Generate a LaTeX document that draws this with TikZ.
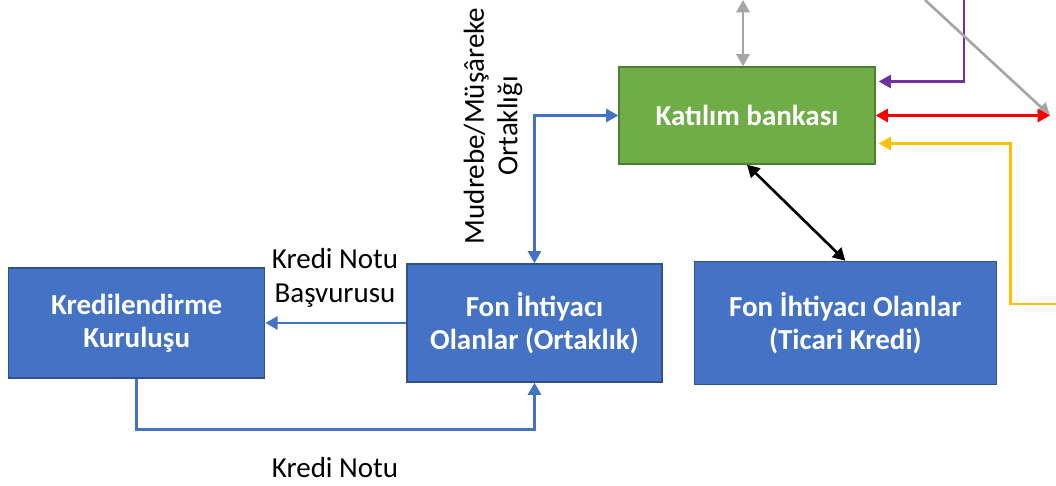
\documentclass[tikz,border=0pt]{standalone}
\usepackage{fontspec}
\setmainfont{Carlito}
\usepackage{xcolor}
\usetikzlibrary{positioning,arrows.meta,calc}

\definecolor{boxblue}{HTML}{4472C4}
\definecolor{boxblueline}{HTML}{2F528F}
\definecolor{boxgreen}{HTML}{70AD47}
\definecolor{boxgreenline}{HTML}{507E32}
\definecolor{lnblue}{HTML}{4472C4}
\definecolor{lngray}{HTML}{A5A5A5}
\definecolor{lnpurple}{HTML}{7030A0}
\definecolor{lnred}{HTML}{FF0000}
\definecolor{lnyellow}{HTML}{FFC000}

\begin{document}
\begin{tikzpicture}[
  x=0.02cm, y=-0.02cm,
  font=\fontsize{16.5}{19}\selectfont,
  every node/.style={align=center},
  actor/.style={draw=boxblueline, line width=0.8pt, fill=boxblue, text=white, font=\fontsize{16.5}{19}\selectfont\bfseries, minimum width=5.12cm, minimum height=2.3cm},
  bank/.style={actor, draw=boxgreenline, fill=boxgreen, minimum height=1.94cm},
  lbl/.style={inner sep=1pt},
  flow/.style={line width=1.5pt, -{Triangle[length=7pt,width=7.5pt]}},
  both/.style={flow, {Triangle[length=7pt,width=7.5pt]}-{Triangle[length=7pt,width=7.5pt]}}
]
\useasboundingbox (0,0) rectangle (1056,486);

\node[bank] (katilim) at (747,115.5) {Katılım bankası};
\node[actor, minimum width=5.1cm, minimum height=2.36cm] (fonO) at (534.5,323) {Fon İhtiyacı\\Olanlar (Ortaklık)};
\node[actor, minimum height=2.2cm, left=2.82cm of fonO] (kredi) {Kredilendirme\\Kuruluşu};
\node[actor, minimum width=6.04cm, minimum height=2.46cm, right=0.62cm of fonO] (ticari) {Fon İhtiyacı Olanlar\\(Ticari Kredi)};

\node[lbl] (basvuru) at (335,278) {Kredi Notu\\Başvurusu};
\node[lbl] (notu) at (335,468) {Kredi Notu};
\node[lbl, rotate=90] (ortak) at (493,126) {Mudrebe/Müşâreke\\Ortaklığı};

\coordinate (gtop) at (743,0);
\coordinate (ptop) at (964,0);
\coordinate (dtop) at (925,0);
\coordinate (redend) at (1050,115.5);
\coordinate (ystart) at (1056,304);
\coordinate (pend) at ($(katilim.east)+(3,-34)$);
\coordinate (yend) at ($(katilim.east)+(3,28)$);

\draw[both, lnblue] (fonO.north) |- (katilim.west);
\draw[flow, lnblue] (fonO.west) -- (fonO.west -| kredi.east);
\draw[flow, lnblue] (kredi.south) -- ++(0,51) -| (fonO.south);
\draw[both, black] (katilim.south) -- (ticari.north);
\draw[both, lngray] (gtop) -- (katilim.north -| gtop);
\draw[flow, lnpurple] (ptop) |- (pend);
\draw[flow, lngray] (dtop) -- (redend);
\draw[both, lnred] (katilim.east) -- (redend);
\draw[flow, lnyellow] (ystart) -| ($(yend)+(132,0)$) -- (yend);
\end{tikzpicture}
\end{document}
